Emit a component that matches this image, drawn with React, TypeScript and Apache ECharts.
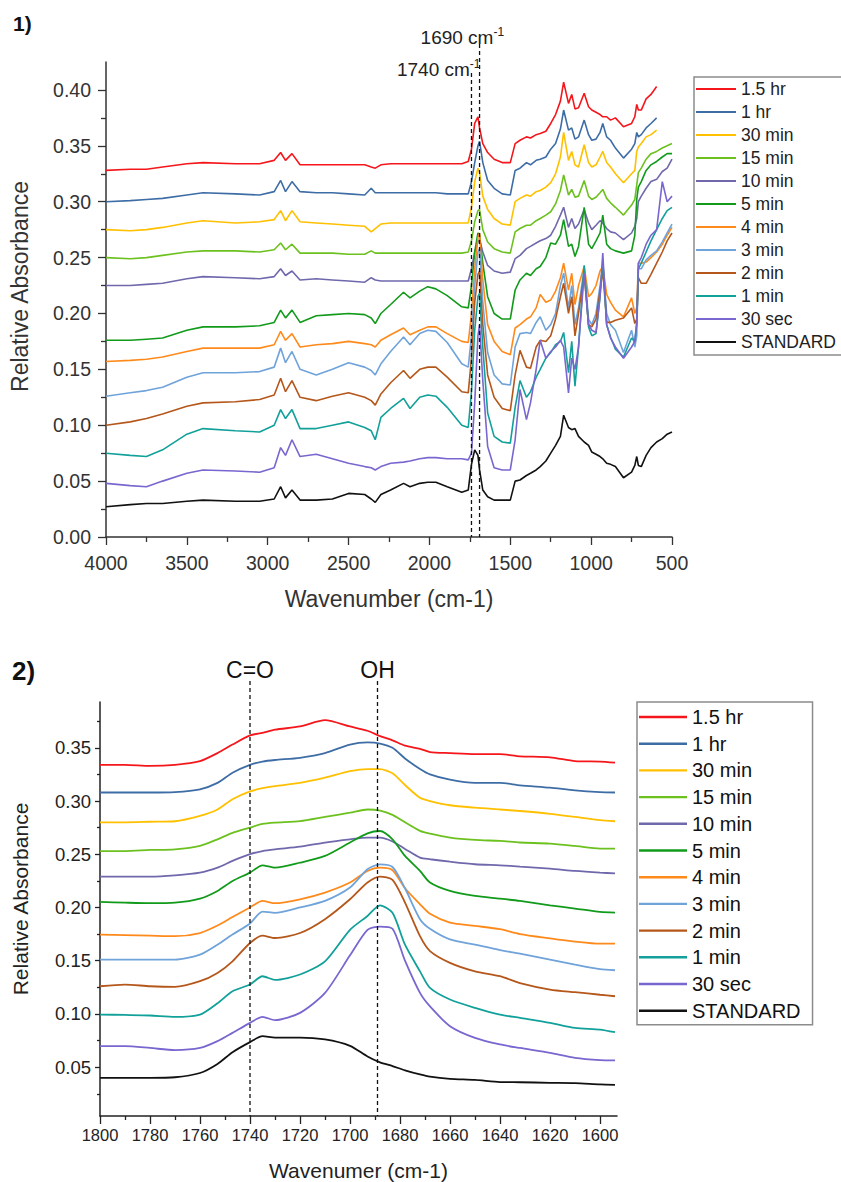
import React, { useEffect, useRef } from "react";
import * as echarts from "echarts";

const FONT = '"Liberation Sans", Arial, Helvetica, sans-serif';

const SERIES_NAMES = ["1.5 hr", "1 hr", "30 min", "15 min", "10 min", "5 min", "4 min", "3 min", "2 min", "1 min", "30 sec", "STANDARD"];
const SERIES_COLORS = ["#F5161B", "#3E6DA6", "#FFC000", "#6CC11F", "#6F68AC", "#129A1B", "#FF8A1C", "#6FA3DA", "#B5571B", "#12A09A", "#7A66CF", "#111111"];

// ---------- Panel 1: full spectrum ----------
const TOP_WN = [
  4000, 3850, 3750, 3650, 3500, 3400, 3200, 3050, 2960, 2920,
  2890, 2850, 2800, 2700, 2600, 2500, 2400, 2360, 2335, 2300,
  2240, 2160, 2120, 2060, 2010, 1960, 1890, 1800, 1760, 1740,
  1720, 1700, 1690, 1670, 1640, 1600, 1550, 1500, 1470, 1440,
  1400, 1375, 1340, 1315, 1280, 1250, 1220, 1190, 1170, 1140,
  1120, 1100, 1078, 1043, 1016, 996, 970, 945, 928, 904,
  880, 850, 800, 750, 730, 718, 708, 690, 660, 630,
  595, 560, 530, 500,
];
const TOP_15HR = [
  .328, .329, .329, .331, .334, .335, .334, .334, .337, .344,
  .337, .343, .333, .333, .333, .333, .333, .331, .330, .333,
  .334, .334, .334, .334, .334, .334, .334, .334, .336, .347,
  .370, .376, .366, .352, .344, .338, .335, .335, .352, .355,
  .358, .357, .360, .361, .363, .370, .378, .390, .407, .388,
  .396, .383, .384, .397, .385, .382, .380, .378, .376, .376,
  .373, .375, .367, .370, .376, .387, .382, .382, .392, .396,
  .403, null, null, null,
];
const TOP_1HR = [
  .300, .301, .302, .303, .306, .308, .307, .306, .309, .319,
  .309, .318, .309, .308, .308, .307, .306, .312, .308, .308,
  .308, .308, .308, .308, .308, .308, .307, .307, .307, .318,
  .335, .350, .354, .335, .319, .312, .307, .306, .328, .330,
  .335, .333, .337, .338, .340, .347, .352, .365, .382, .364,
  .366, .356, .358, .373, .360, .355, .356, .362, .370, .358,
  .355, .348, .339, .347, .352, .362, .358, .360, .366, .370,
  .375, null, null, null,
];
const TOP_30MIN = [
  .275, .274, .275, .277, .281, .283, .281, .282, .284, .292,
  .283, .292, .282, .281, .280, .279, .278, .273, .276, .280,
  .281, .281, .281, .281, .281, .281, .281, .281, .281, .295,
  .318, .330, .326, .305, .293, .285, .280, .279, .300, .303,
  .306, .305, .309, .310, .313, .317, .325, .340, .362, .337,
  .345, .333, .331, .351, .335, .331, .333, .340, .345, .335,
  .331, .325, .317, .325, .328, .345, .349, .352, .358, .360,
  .364, null, null, null,
];
const TOP_15MIN = [
  .250, .249, .250, .252, .255, .256, .256, .255, .257, .263,
  .257, .262, .254, .254, .254, .253, .253, .256, .254, .254,
  .254, .254, .254, .254, .254, .254, .254, .254, .255, .265,
  .282, .292, .293, .275, .264, .258, .255, .254, .273, .276,
  .279, .279, .283, .285, .288, .291, .298, .310, .324, .306,
  .311, .304, .305, .319, .305, .302, .304, .308, .311, .303,
  .299, .295, .288, .297, .302, .315, .326, .330, .338, .343,
  .345, .348, .350, .352,
];
const TOP_10MIN = [
  .225, .225, .226, .227, .231, .233, .232, .231, .233, .240,
  .234, .238, .230, .231, .230, .229, .228, .232, .230, .229,
  .229, .229, .229, .229, .229, .229, .229, .229, .229, .240,
  .255, .264, .266, .255, .243, .238, .236, .237, .249, .252,
  .258, .260, .263, .265, .267, .270, .278, .288, .295, .277,
  .285, .276, .280, .293, .281, .275, .279, .283, .281, .276,
  .273, .272, .266, .272, .278, .285, .300, .305, .312, .318,
  .320, .327, .330, .338,
];
const TOP_5MIN = [
  .176, .176, .177, .178, .185, .188, .188, .189, .192, .203,
  .196, .203, .192, .198, .199, .200, .199, .196, .191, .200,
  .208, .219, .214, .220, .224, .222, .216, .206, .205, .225,
  .255, .272, .270, .245, .215, .200, .195, .195, .221, .230,
  .236, .234, .240, .242, .250, .263, .262, .270, .284, .260,
  .262, .251, .260, .295, .262, .258, .265, .272, .288, .262,
  .258, .256, .254, .256, .270, .302, .313, .318, .328, .333,
  .336, .340, .343, .343,
];
const TOP_4MIN = [
  .157, .158, .159, .161, .166, .169, .169, .169, .172, .184,
  .176, .182, .170, .172, .173, .175, .173, .172, .170, .176,
  .181, .187, .181, .185, .188, .188, .182, .175, .174, .200,
  .240, .268, .272, .230, .190, .175, .166, .163, .187, .190,
  .195, .197, .205, .217, .210, .212, .220, .232, .245, .221,
  .236, .208, .225, .242, .215, .218, .225, .238, .242, .217,
  .210, .203, .197, .214, .200, .205, .245, .245, .246, .250,
  .255, .262, .270, .277,
];
const TOP_3MIN = [
  .126, .129, .131, .134, .143, .147, .147, .148, .152, .169,
  .156, .166, .150, .145, .150, .156, .152, .149, .145, .155,
  .166, .179, .172, .182, .185, .184, .174, .155, .152, .180,
  .225, .255, .258, .210, .165, .145, .137, .136, .170, .182,
  .183, .182, .192, .197, .185, .190, .200, .225, .236, .205,
  .225, .190, .205, .240, .195, .190, .200, .225, .242, .200,
  .190, .185, .165, .185, .170, .180, .240, .240, .248, .252,
  .256, .264, .272, .280,
];
const TOP_2MIN = [
  .100, .103, .106, .110, .117, .120, .121, .123, .127, .142,
  .130, .140, .125, .122, .126, .129, .125, .122, .118, .128,
  .138, .149, .142, .150, .152, .152, .143, .130, .129, .160,
  .210, .235, .238, .190, .145, .125, .115, .113, .145, .167,
  .152, .151, .170, .176, .175, .180, .195, .215, .227, .200,
  .215, .180, .200, .236, .190, .188, .195, .220, .239, .192,
  .192, .194, .196, .205, .191, .195, .232, .227, .227, .235,
  .245, .255, .265, .272,
];
const TOP_1MIN = [
  .075, .073, .072, .078, .092, .097, .095, .094, .100, .114,
  .106, .114, .097, .097, .100, .103, .098, .095, .087, .107,
  .115, .124, .115, .125, .127, .126, .116, .100, .098, .130,
  .185, .215, .218, .170, .111, .090, .085, .084, .116, .140,
  .125, .130, .143, .150, .160, .165, .172, .175, .183, .147,
  .175, .135, .170, .243, .188, .180, .182, .215, .248, .190,
  .179, .168, .161, .178, .175, .191, .240, .245, .255, .265,
  .275, .285, .292, .295,
];
const TOP_30SEC = [
  .048, .046, .045, .050, .057, .060, .059, .058, .062, .080,
  .073, .087, .072, .074, .070, .066, .063, .062, .060, .063,
  .066, .067, .068, .070, .071, .071, .070, .070, .069, .075,
  .120, .180, .190, .140, .081, .062, .060, .060, .087, .132,
  .105, .120, .150, .176, .160, .166, .170, .176, .170, .129,
  .160, .150, .170, .236, .190, .185, .183, .215, .254, .190,
  .178, .170, .160, .170, .175, .192, .245, .250, .262, .270,
  .275, .318, .300, .305,
];
const TOP_STANDARD = [
  .027, .029, .030, .030, .032, .033, .032, .032, .034, .045,
  .035, .042, .033, .033, .034, .039, .038, .034, .031, .038,
  .042, .048, .045, .048, .049, .049, .045, .040, .042, .065,
  .078, .073, .060, .042, .036, .033, .033, .033, .050, .051,
  .055, .057, .060, .063, .068, .075, .082, .090, .109, .098,
  .096, .097, .090, .085, .082, .076, .074, .072, .070, .066,
  .065, .063, .053, .058, .064, .072, .064, .063, .073, .080,
  .085, .088, .092, .094,
];
const TOP_Y_TICKS = [0, 0.05, 0.1, 0.15, 0.2, 0.25, 0.3, 0.35, 0.4];
const TOP_Y_MINOR = [0.025, 0.075, 0.125, 0.175, 0.225, 0.275, 0.325, 0.375];
const TOP_MARKERS = [1740, 1690];

// ---------- Panel 2: carbonyl region ----------
const BOTTOM_WN = [1800, 1790, 1780, 1770, 1760, 1753, 1747, 1740, 1735, 1730, 1720, 1710, 1700, 1693, 1688, 1683, 1678, 1672, 1668, 1660, 1650, 1640, 1632, 1620, 1610, 1600, 1594];
const BOT_15HR = [.334, .334, .333, .334, .3375, .345, .353, .3616, .364, .367, .370, .376, .370, .366, .361, .357, .352, .349, .346, .345, .344, .344, .342, .341, .3375, .337, .336];
const BOT_1HR = [.308, .308, .308, .3084, .311, .317, .3266, .334, .337, .3385, .3406, .345, .353, .355, .354, .350, .340, .330, .325, .320, .317, .317, .3147, .3125, .310, .3084, .308];
const BOT_30MIN = [.280, .280, .2805, .281, .286, .292, .3016, .309, .312, .314, .317, .3219, .328, .330, .330, .326, .315, .303, .300, .296, .2937, .292, .2906, .288, .285, .282, .281];
const BOT_15MIN = [.253, .253, .254, .2546, .2578, .264, .270, .275, .2785, .2797, .281, .285, .289, .292, .291, .287, .280, .272, .2693, .2656, .2634, .2625, .261, .260, .2578, .2553, .2553];
const BOT_10MIN = [.229, .229, .229, .2302, .2327, .2374, .2437, .250, .253, .2546, .2571, .261, .264, .2656, .2656, .262, .255, .2468, .2453, .243, .2406, .2396, .2384, .2365, .2343, .2327, .232];
const BOT_5MIN = [.2052, .2045, .204, .2045, .2083, .2155, .2249, .2327, .2396, .2374, .242, .2484, .261, .2696, .2718, .264, .2484, .2343, .2234, .2155, .2108, .2083, .2061, .202, .199, .1958, .1952];
const BOT_4MIN = [.1745, .174, .1735, .173, .176, .183, .191, .200, .2062, .204, .2077, .214, .2234, .2343, .2374, .235, .218, .203, .194, .1858, .1827, .1796, .175, .171, .168, .166, .166];
const BOT_3MIN = [.151, .151, .151, .151, .1557, .165, .1745, .185, .196, .195, .200, .2062, .2187, .2359, .2405, .238, .218, .189, .180, .170, .165, .160, .1566, .151, .1463, .142, .141];
const BOT_2MIN = [.126, .1276, .126, .1254, .1307, .1385, .1494, .1666, .1735, .1713, .176, .189, .2077, .2234, .229, .226, .2046, .173, .159, .148, .140, .1354, .129, .1229, .1204, .118, .1166];
const BOT_1MIN = [.0994, .099, .0985, .0972, .0994, .110, .1213, .1276, .1354, .132, .137, .1494, .179, .192, .202, .195, .165, .140, .1244, .1135, .1057, .0994, .0963, .0916, .0869, .0853, .0828];
const BOT_30SEC = [.0697, .0697, .068, .066, .068, .0744, .0822, .0916, .0972, .0941, .101, .1197, .155, .179, .182, .180, .150, .1197, .107, .0885, .0775, .0713, .068, .0634, .0588, .0566, .0563];
const BOT_STANDARD = [.040, .040, .040, .0405, .0445, .053, .064, .0735, .0791, .0778, .0778, .076, .070, .060, .0545, .051, .047, .0431, .041, .039, .038, .036, .0358, .0353, .035, .0338, .0334];
const BOTTOM_X_TICKS = [1600, 1620, 1640, 1660, 1680, 1700, 1720, 1740, 1760, 1780, 1800];
const BOTTOM_X_MINOR = [1610, 1630, 1650, 1670, 1690, 1710, 1730, 1750, 1770, 1790];
const BOTTOM_Y_TICKS = [0.05, 0.1, 0.15, 0.2, 0.25, 0.3, 0.35];
const BOTTOM_Y_MINOR = [0.025, 0.075, 0.125, 0.175, 0.225, 0.275, 0.325, 0.375];
const BOTTOM_MARKERS = [
  { label: "C=O", wn: 1740 },
  { label: "OH", wn: 1689 },
];

const TOP_SERIES = [TOP_15HR, TOP_1HR, TOP_30MIN, TOP_15MIN, TOP_10MIN, TOP_5MIN, TOP_4MIN, TOP_3MIN, TOP_2MIN, TOP_1MIN, TOP_30SEC, TOP_STANDARD];
const BOTTOM_SERIES = [BOT_15HR, BOT_1HR, BOT_30MIN, BOT_15MIN, BOT_10MIN, BOT_5MIN, BOT_4MIN, BOT_3MIN, BOT_2MIN, BOT_1MIN, BOT_30SEC, BOT_STANDARD];

function buildOption() {
  const topSeries = TOP_SERIES.map((vals, i) => ({
    type: "line",
    name: SERIES_NAMES[i],
    xAxisIndex: 0,
    yAxisIndex: 0,
    data: TOP_WN.map((w, k) => [w, vals[k]]).filter((p) => p[1] !== null),
    symbol: "none",
    showSymbol: false,
    lineStyle: { color: SERIES_COLORS[i], width: 1.6 },
    itemStyle: { color: SERIES_COLORS[i] },
    emphasis: { disabled: true },
  }));
  const bottomSeries = BOTTOM_SERIES.map((vals, i) => ({
    type: "line",
    name: SERIES_NAMES[i],
    xAxisIndex: 1,
    yAxisIndex: 2,
    data: BOTTOM_WN.map((w, k) => [w, vals[k]]),
    symbol: "none",
    showSymbol: false,
    smooth: 0.25,
    lineStyle: { color: SERIES_COLORS[i], width: 1.8 },
    itemStyle: { color: SERIES_COLORS[i] },
    emphasis: { disabled: true },
  }));

  const axisColTop = "#333";
  const axisColBot = "#222";
  const fmt2 = (v: number) => v.toFixed(2);
  const fmtInt = (v: number) => String(Math.round(v));

  return {
    animation: false,
    backgroundColor: "#ffffff",
    textStyle: { fontFamily: FONT },
    grid: [
      { left: 105, top: 62, width: 567, height: 475 },
      { left: 100, top: 702, width: 517, height: 415 },
    ],
    xAxis: [
      {
        type: "value",
        gridIndex: 0,
        inverse: true,
        min: 500,
        max: 4000,
        interval: 500,
        axisLine: { show: true, onZero: false, lineStyle: { color: axisColTop, width: 1.5 } },
        axisTick: { show: true, length: 8, lineStyle: { color: axisColTop, width: 1.3 } },
        minorTick: { show: true, splitNumber: 2, length: 5, lineStyle: { color: axisColTop, width: 1.3 } },
        axisLabel: { fontSize: 19.5, color: axisColTop, margin: 16, fontFamily: FONT, formatter: fmtInt },
        splitLine: { show: false },
        minorSplitLine: { show: false },
        name: "Wavenumber (cm-1)",
        nameLocation: "middle",
        nameGap: 50,
        nameTextStyle: { fontSize: 23, color: axisColTop, fontFamily: FONT },
      },
      {
        type: "value",
        gridIndex: 1,
        inverse: true,
        min: 1593.2,
        max: 1800,
        axisLine: { show: true, onZero: false, lineStyle: { color: axisColBot, width: 1.5 } },
        axisTick: { show: true, length: 8, customValues: BOTTOM_X_TICKS, lineStyle: { color: axisColBot, width: 1.3 } },
        axisLabel: { fontSize: 16.5, color: axisColBot, margin: 10, customValues: BOTTOM_X_TICKS, fontFamily: FONT, formatter: fmtInt },
        splitLine: { show: false },
        name: "Wavenumer (cm-1)",
        nameLocation: "middle",
        nameGap: 44,
        nameTextStyle: { fontSize: 21, color: axisColBot, fontFamily: FONT },
      },
      {
        type: "value",
        gridIndex: 1,
        position: "bottom",
        inverse: true,
        min: 1593.2,
        max: 1800,
        axisLine: { show: false },
        axisTick: { show: true, length: 4, customValues: BOTTOM_X_MINOR, lineStyle: { color: axisColBot, width: 1.3 } },
        axisLabel: { show: false },
        splitLine: { show: false },
      },
    ],
    yAxis: [
      {
        type: "value",
        gridIndex: 0,
        min: 0,
        max: 0.425,
        axisLine: { show: true, onZero: false, lineStyle: { color: axisColTop, width: 1.5 } },
        axisTick: { show: true, length: 8, customValues: TOP_Y_TICKS, lineStyle: { color: axisColTop, width: 1.3 } },
        axisLabel: { fontSize: 19.5, color: axisColTop, margin: 15, customValues: TOP_Y_TICKS, formatter: fmt2, fontFamily: FONT },
        splitLine: { show: false },
        name: "Relative Absorbance",
        nameLocation: "middle",
        nameGap: 75,
        nameTextStyle: { fontSize: 23, color: axisColTop, fontFamily: FONT, padding: [0, 0, 0, 26] },
      },
      {
        type: "value",
        gridIndex: 0,
        position: "left",
        min: 0,
        max: 0.425,
        axisLine: { show: false },
        axisTick: { show: true, length: 5, customValues: TOP_Y_MINOR, lineStyle: { color: axisColTop, width: 1.3 } },
        axisLabel: { show: false },
        splitLine: { show: false },
      },
      {
        type: "value",
        gridIndex: 1,
        min: 0.0041,
        max: 0.393,
        axisLine: { show: true, onZero: false, lineStyle: { color: axisColBot, width: 1.5 } },
        axisTick: { show: true, length: 5, customValues: BOTTOM_Y_TICKS, lineStyle: { color: axisColBot, width: 1.3 } },
        axisLabel: { fontSize: 18.5, color: axisColBot, margin: 9, customValues: BOTTOM_Y_TICKS, formatter: fmt2, fontFamily: FONT },
        splitLine: { show: false },
        name: "Relative Absorbance",
        nameLocation: "middle",
        nameGap: 69,
        nameTextStyle: { fontSize: 21, color: axisColBot, fontFamily: FONT, padding: [0, 0, 0, 20] },
      },
      {
        type: "value",
        gridIndex: 1,
        position: "left",
        min: 0.0041,
        max: 0.393,
        axisLine: { show: false },
        axisTick: { show: true, length: 3, customValues: BOTTOM_Y_MINOR, lineStyle: { color: axisColBot, width: 1.3 } },
        axisLabel: { show: false },
        splitLine: { show: false },
      },
    ],
    legend: [
      {
        orient: "vertical",
        left: 694,
        top: 77,
        icon: "rect",
        itemWidth: 40,
        itemHeight: 2.2,
        itemGap: 3,
        padding: [2, 6, 3, 2],
        borderColor: "#8c8c8c",
        borderWidth: 1.5,
        selectedMode: false,
        data: SERIES_NAMES,
        textStyle: { fontSize: 17.5, lineHeight: 20, color: "#222", fontFamily: FONT },
      },
      {
        orient: "vertical",
        left: 637,
        top: 702,
        icon: "rect",
        itemWidth: 48,
        itemHeight: 2.4,
        itemGap: 4.7,
        padding: [4, 12, 3, 2],
        borderColor: "#8c8c8c",
        borderWidth: 1.5,
        selectedMode: false,
        data: SERIES_NAMES,
        textStyle: { fontSize: 20, lineHeight: 22, color: "#111", fontFamily: FONT },
      },
    ],
    series: [...topSeries, ...bottomSeries],
  };
}

export default function App() {
  const ref = useRef<HTMLDivElement>(null);
  useEffect(() => {
    if (!ref.current) return;
    const chart = echarts.init(ref.current, null, { renderer: "svg" });
    chart.setOption(buildOption() as any);

    const topPx = (w: number, v: number) => chart.convertToPixel({ xAxisIndex: 0, yAxisIndex: 0 }, [w, v]) as number[];
    const botPx = (w: number, v: number) => chart.convertToPixel({ xAxisIndex: 1, yAxisIndex: 2 }, [w, v]) as number[];
    const [x1740, yTopBase] = topPx(TOP_MARKERS[0], 0);
    const [x1690] = topPx(TOP_MARKERS[1], 0);
    const yBotBase = botPx(1800, 0.0041)[1];

    const dash = { stroke: "#111", lineWidth: 1.3, lineDash: [4, 3] };
    const rich = {
      a: { fontSize: 19, fill: "#222", fontFamily: FONT, lineHeight: 22 },
      b: { fontSize: 12, fill: "#222", fontFamily: FONT, lineHeight: 22, verticalAlign: "top" },
    };
    const graphic: any[] = [
      { type: "line", z: 100, shape: { x1: x1740, y1: 73, x2: x1740, y2: yTopBase }, style: dash },
      { type: "line", z: 100, shape: { x1: x1690, y1: 44, x2: x1690, y2: yTopBase }, style: dash },
      {
        type: "text", z: 100, x: x1740 + 9, y: 69,
        style: { text: `{a|${TOP_MARKERS[0]} cm}{b|-1}`, rich, align: "right", verticalAlign: "middle" },
      },
      {
        type: "text", z: 100, x: x1690 - 59, y: 37,
        style: { text: `{a|${TOP_MARKERS[1]} cm}{b|-1}`, rich, align: "left", verticalAlign: "middle" },
      },
      {
        type: "text", z: 100, x: 13, y: 23,
        style: { text: "1)", fontSize: 21, fontWeight: "bold", fill: "#111", fontFamily: FONT, verticalAlign: "middle" },
      },
      {
        type: "text", z: 100, x: 12, y: 671,
        style: { text: "2)", fontSize: 26, fontWeight: "bold", fill: "#111", fontFamily: FONT, verticalAlign: "middle" },
      },
    ];
    BOTTOM_MARKERS.forEach((m) => {
      const x = botPx(m.wn, 0.2)[0];
      graphic.push({ type: "line", z: 100, shape: { x1: x, y1: 681, x2: x, y2: yBotBase }, style: dash });
      graphic.push({
        type: "text", z: 100, x, y: 670,
        style: { text: m.label, fontSize: 23, fill: "#111", fontFamily: FONT, align: "center", verticalAlign: "middle" },
      });
    });
    chart.setOption({ graphic });

    return () => chart.dispose();
  }, []);
  return (
    <div
      ref={ref}
      style={{ position: "absolute", left: 0, top: 0, width: 841, height: 1182, background: "#fff" }}
    />
  );
}
